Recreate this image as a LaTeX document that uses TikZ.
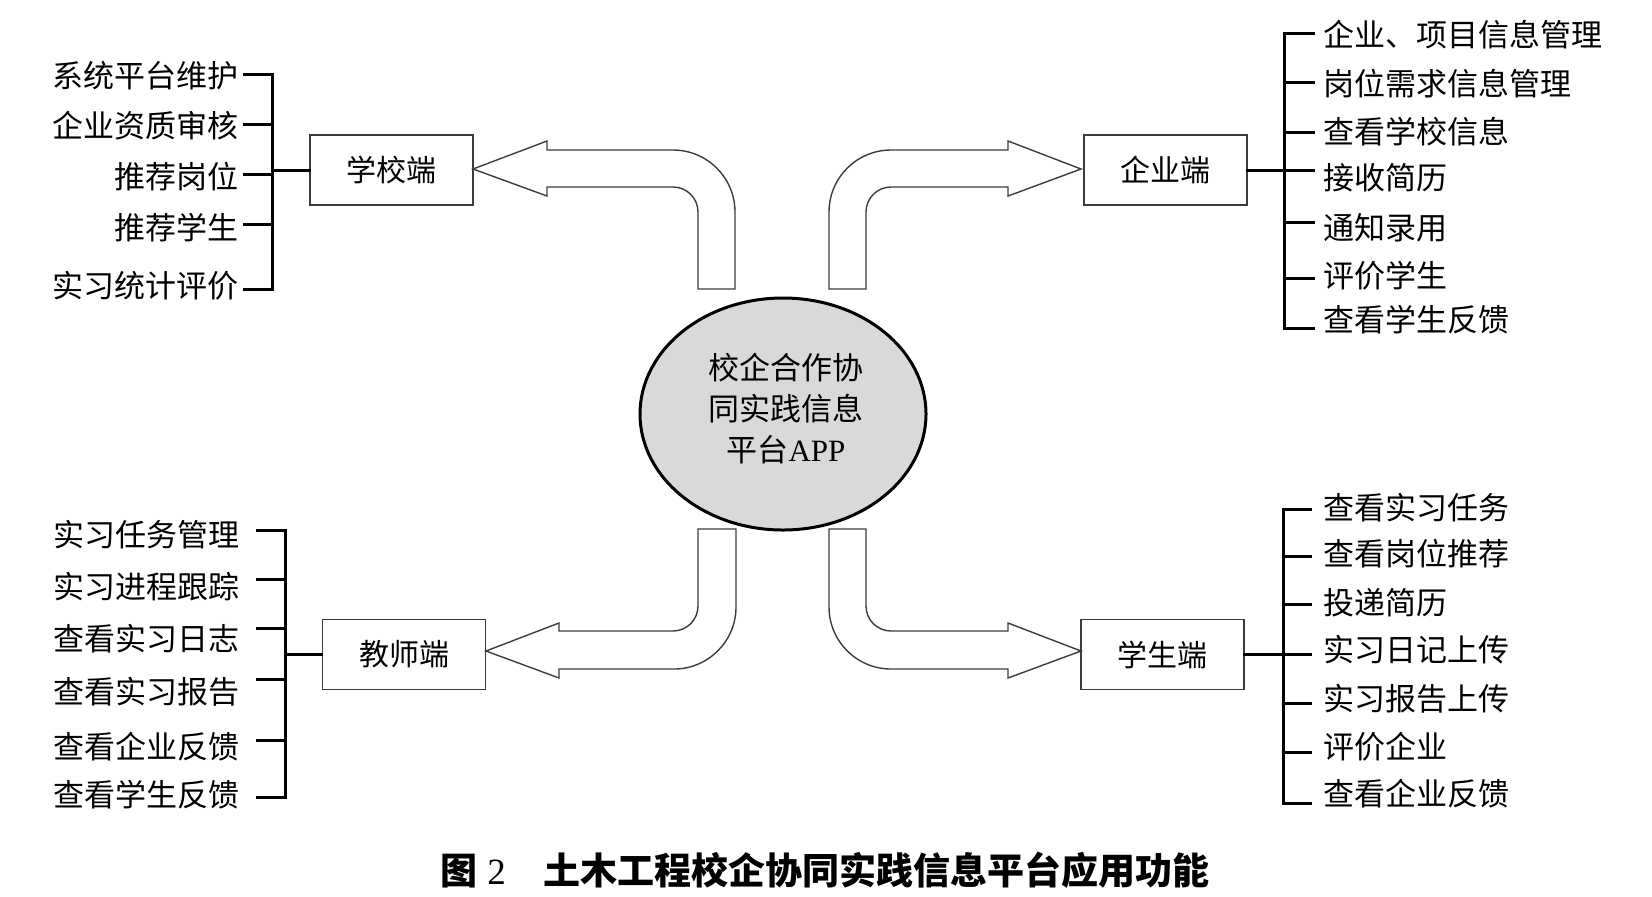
\documentclass[tikz,border=0pt]{standalone}
\usepackage{fontspec}
\setmainfont{Liberation Serif}
\newfontfamily\cjk{Noto Sans CJK SC}
\usetikzlibrary{shapes.geometric}
\definecolor{ellfill}{RGB}{217,217,217}
\definecolor{edge}{RGB}{60,60,60}
\begin{document}
\begin{tikzpicture}[x=0.5pt,y=-0.5pt,
  item/.style={font=\cjk\fontsize{15.5pt}{18pt}\selectfont, inner sep=0pt},
  litem/.style={item, anchor=east},
  ritem/.style={item, anchor=west},
  endbox/.style={draw=edge, line width=0.75pt, minimum width=81.5pt, minimum height=35pt, inner sep=0pt, font=\cjk\fontsize{15pt}{18pt}\selectfont},
  brk/.style={line width=1.5pt, line cap=rect},
  barrow/.style={draw=edge, line width=0.7pt, fill=white, line join=miter}
]
\useasboundingbox (0,0) rectangle (1652,896);

% central ellipse
\node[ellipse, draw=black, line width=1.5pt, fill=ellfill, minimum width=143pt, minimum height=116pt, inner sep=0pt] (app) at (783,414) {};
\node[align=center, inner sep=0pt, font=\cjk\fontsize{15.5pt}{20.5pt}\selectfont] (apptext) at ([xshift=1.5pt,yshift=2.5pt]app.center)
  {校企合作协\\同实践信息\\平台{\rmfamily APP}};

% end boxes
\node[endbox] (school) at (391.5,170) {学校端};
\node[endbox] (ent) at (1165.5,170) {企业端};
\node[endbox] (teach) at (404,654.5) {教师端};
\node[endbox] (stud) at (1162.5,654.5) {学生端};

% block arrows
\draw[barrow] (473,169) -- (547,141) -- (547,150) -- (673,150)
  .. controls (707.2,150) and (735,177.8) .. (735,212) -- (735,289) -- (698,289) -- (698,212)
  .. controls (698,198.2) and (686.8,187) .. (673,187) -- (547,187) -- (547,196) -- cycle;
\draw[barrow] (1081,169) -- (1008,141) -- (1008,150) -- (891,150)
  .. controls (856.8,150) and (829,177.8) .. (829,212) -- (829,289) -- (866,289) -- (866,212)
  .. controls (866,198.2) and (877.2,187) .. (891,187) -- (1008,187) -- (1008,196) -- cycle;
\draw[barrow] (486,651) -- (559,623) -- (559,631) -- (673,631)
  .. controls (686.8,631) and (698,619.8) .. (698,606) -- (698,529) -- (736,529) -- (736,607)
  .. controls (736,641.2) and (708.2,669) .. (674,669) -- (559,669) -- (559,678) -- cycle;
\draw[barrow] (1081,651) -- (1008,623) -- (1008,631) -- (891,631)
  .. controls (877.2,631) and (866,619.8) .. (866,606) -- (866,529) -- (829,529) -- (829,607)
  .. controls (829,641.2) and (856.8,669) .. (891,669) -- (1008,669) -- (1008,678) -- cycle;

% school list
\node[litem] (s1) at (239,76) {系统平台维护};
\node[litem] (s2) at (239,126) {企业资质审核};
\node[litem] (s3) at (239,177) {推荐岗位};
\node[litem] (s4) at (239,228) {推荐学生};
\node[litem] (s5) at (239,286) {实习统计评价};
\foreach \y in {74,124,174,224,289} \draw[brk] (244,\y) -- (272,\y);
\draw[brk] (272,74) -- (272,289);
\coordinate (sj) at (272,170);
\draw[brk] (sj) -- (school.west);

% teacher list
\node[litem] (t1) at (240,535) {实习任务管理};
\node[litem] (t2) at (240,587) {实习进程跟踪};
\node[litem] (t3) at (240,639) {查看实习日志};
\node[litem] (t4) at (240,692) {查看实习报告};
\node[litem] (t5) at (240,747) {查看企业反馈};
\node[litem] (t6) at (240,795) {查看学生反馈};
\foreach \y in {530,579,628,679,740,797} \draw[brk] (257,\y) -- (285,\y);
\draw[brk] (285,530) -- (285,797);
\coordinate (tj) at (285,654.5);
\draw[brk] (tj) -- (teach.west);

% enterprise list
\node[ritem] (e1) at (1323,35) {企业、项目信息管理};
\node[ritem] (e2) at (1323,84) {岗位需求信息管理};
\node[ritem] (e3) at (1323,132) {查看学校信息};
\node[ritem] (e4) at (1323,178) {接收简历};
\node[ritem] (e5) at (1323,228) {通知录用};
\node[ritem] (e6) at (1323,276) {评价学生};
\node[ritem] (e7) at (1323,320) {查看学生反馈};
\foreach \y in {33,82,132,170,222,278,328} \draw[brk] (1284,\y) -- (1313,\y);
\draw[brk] (1284,33) -- (1284,328);
\coordinate (ej) at (1284,170);
\draw[brk] (ent.east) -- (ej);

% student list
\node[ritem] (p1) at (1323,508) {查看实习任务};
\node[ritem] (p2) at (1323,554) {查看岗位推荐};
\node[ritem] (p3) at (1323,603) {投递简历};
\node[ritem] (p4) at (1323,650) {实习日记上传};
\node[ritem] (p5) at (1323,699) {实习报告上传};
\node[ritem] (p6) at (1323,747) {评价企业};
\node[ritem] (p7) at (1323,794) {查看企业反馈};
\foreach \y in {509,556,604,654.5,703,752,803} \draw[brk] (1283,\y) -- (1310,\y);
\draw[brk] (1283,509) -- (1283,803);
\coordinate (pj) at (1283,654.5);
\draw[brk] (stud.east) -- (pj);

% caption
\node[anchor=west, inner sep=0pt, font=\cjk\bfseries\fontsize{18.5pt}{20pt}\selectfont] (cap) at (440,870)
  {图\hspace{5pt}{\rmfamily\mdseries 2}\hspace{19pt}土木工程校企协同实践信息平台应用功能};
\end{tikzpicture}
\end{document}
